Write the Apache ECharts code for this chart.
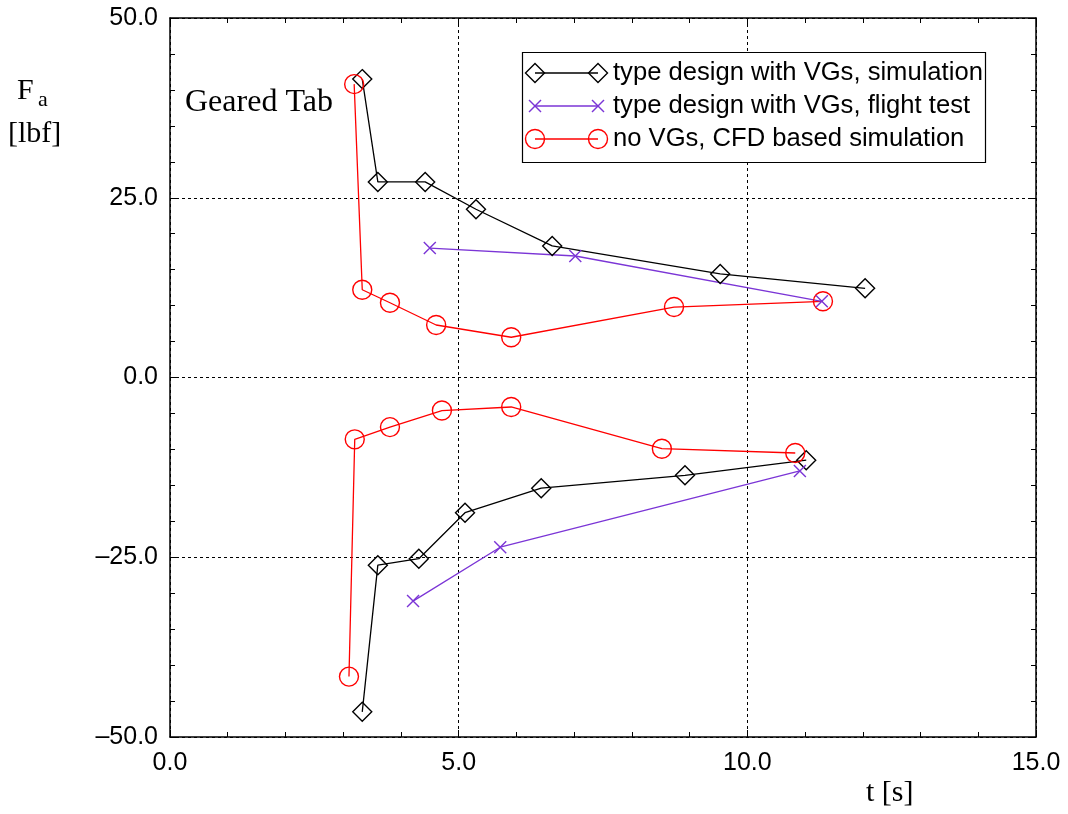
<!DOCTYPE html>
<html>
<head>
<meta charset="utf-8">
<script src="https://cdn.jsdelivr.net/npm/echarts@6/dist/echarts.min.js"></script>
<style>
  html, body { margin: 0; padding: 0; background: #fff; }
  #main { width: 1068px; height: 814px; }
</style>
</head>
<body>
<div id="main"></div>
<script type="text/javascript">
    // t [s] / Fa [lbf]
    var simUpperT = [3.33, 3.60, 4.42, 5.30, 6.62, 9.53, 12.04];
    var simUpperF = [41.5, 27.2, 27.2, 23.4, 18.3, 14.4, 12.4];
    var simLowerT = [3.33, 3.60, 4.31, 5.11, 6.43, 8.92, 11.02];
    var simLowerF = [-46.5, -26.1, -25.2, -18.8, -15.4, -13.6, -11.5];

    var testUpperT = [4.50, 7.02, 11.29];
    var testUpperF = [18.0, 16.9, 10.6];
    var testLowerT = [4.21, 5.72, 10.91];
    var testLowerF = [-31.1, -23.6, -13.0];

    var cfdUpperT = [3.19, 3.33, 3.81, 4.61, 5.91, 8.73, 11.31];
    var cfdUpperF = [40.8, 12.2, 10.4, 7.3, 5.6, 9.8, 10.6];
    var cfdLowerT = [3.10, 3.20, 3.81, 4.71, 5.91, 8.52, 10.83];
    var cfdLowerF = [-41.6, -8.6, -6.9, -4.6, -4.1, -9.9, -10.5];

    var legendNames = ['type design with VGs, simulation', 'type design with VGs, flight test', 'no VGs, CFD based simulation'];
    var xTicks = [0, 5, 10, 15];
    var yTicks = [-50, -25, 0, 25, 50];

    var black = '#000000';
    var purple = '#7b35d6';
    var red = '#ff0000';
    var crossPath = 'path://M0,0L10,10M10,0L0,10';

    function pairs(t, f) {
        var out = [];
        for (var i = 0; i < t.length; i++) out.push([t[i], f[i]]);
        return out;
    }
    function fmt(v) {
        return v.toFixed(1).replace('-', '\u2013');
    }

    var myChart = echarts.init(document.getElementById('main'), null, {renderer: 'canvas'});

    function lineSeries(name, data, color, symbol, size) {
        return {
            name: name,
            type: 'line',
            data: data,
            symbol: symbol,
            symbolSize: size,
            showAllSymbol: true,
            lineStyle: {color: color, width: 1.3},
            itemStyle: {color: 'rgba(0,0,0,0)', borderColor: color, borderWidth: 1.4},
            emphasis: {disabled: true},
            z: 3
        };
    }

    var axisBase = {
        type: 'value',
        axisLine: {show: true, onZero: false, lineStyle: {color: '#000', width: 1.5}},
        axisTick: {show: true, inside: true, length: 7, lineStyle: {color: '#000', width: 1}},
        minorTick: {show: true, splitNumber: 5, length: 5, lineStyle: {color: '#000', width: 1}},
        splitLine: {show: false}
    };

    function xAxis(pos, showLabel, showGrid) {
        return Object.assign({}, axisBase, {
            position: pos, min: xTicks[0], max: xTicks[xTicks.length - 1], interval: 5,
            axisLabel: {show: showLabel, formatter: fmt, margin: 14, color: '#000',
                fontFamily: 'Liberation Sans', fontSize: 25},
            splitLine: {show: showGrid, lineStyle: {color: '#000', width: 1, type: [3, 3]}}
        });
    }
    function yAxis(pos, showLabel, showGrid) {
        return Object.assign({}, axisBase, {
            position: pos, min: yTicks[0], max: yTicks[yTicks.length - 1], interval: 25,
            axisLabel: {show: showLabel, formatter: fmt, margin: 12, color: '#000',
                fontFamily: 'Liberation Sans', fontSize: 25},
            splitLine: {show: showGrid, lineStyle: {color: '#000', width: 1, type: [3, 3]}}
        });
    }

    // legend drawn by hand: line with a marker at each end
    var lgX0 = 535, lgX1 = 598, lgY = [73, 106, 139];
    var legendGraphics = [{
        type: 'rect', shape: {x: 522.5, y: 52.5, width: 463, height: 110},
        style: {fill: '#fff', stroke: '#000', lineWidth: 1.2}, z: 10
    }];
    var lgColors = [black, purple, red];
    lgY.forEach(function (y, i) {
        var c = lgColors[i];
        legendGraphics.push({type: 'line', shape: {x1: lgX0, y1: y, x2: lgX1, y2: y},
            style: {stroke: c, lineWidth: 1.3}, z: 11});
        [lgX0, lgX1].forEach(function (x) {
            if (i === 0) {
                legendGraphics.push({type: 'polygon',
                    shape: {points: [[x, y - 9.5], [x + 9.5, y], [x, y + 9.5], [x - 9.5, y]]},
                    style: {fill: 'none', stroke: c, lineWidth: 1.4}, z: 12});
            } else if (i === 1) {
                legendGraphics.push({type: 'polyline', shape: {points: [[x - 6, y - 6], [x + 6, y + 6]]},
                    style: {stroke: c, lineWidth: 1.4}, z: 12});
                legendGraphics.push({type: 'polyline', shape: {points: [[x + 6, y - 6], [x - 6, y + 6]]},
                    style: {stroke: c, lineWidth: 1.4}, z: 12});
            } else {
                legendGraphics.push({type: 'circle', shape: {cx: x, cy: y, r: 9.5},
                    style: {fill: 'none', stroke: c, lineWidth: 1.4}, z: 12});
            }
        });
        legendGraphics.push({type: 'text', x: 613, y: y,
            style: {text: legendNames[i], fill: '#000', fontFamily: 'Liberation Sans', fontSize: 25.6,
                verticalAlign: 'middle'}, z: 12});
    });

    var serif = 'Liberation Serif';
    var textGraphics = [
        {type: 'text', x: 17, y: 76, style: {text: 'F', fill: '#000', fontFamily: serif, fontSize: 30}},
        {type: 'text', x: 38, y: 89, style: {text: 'a', fill: '#000', fontFamily: serif, fontSize: 22}},
        {type: 'text', x: 8, y: 119, style: {text: '[lbf]', fill: '#000', fontFamily: serif, fontSize: 30}},
        {type: 'text', x: 185, y: 87, style: {text: 'Geared Tab', fill: '#000', fontFamily: serif, fontSize: 32}},
        {type: 'text', x: 866, y: 778, style: {text: 't [s]', fill: '#000', fontFamily: serif, fontSize: 30}}
    ];

    myChart.setOption({
        backgroundColor: '#fff',
        animation: false,
        grid: {left: 170, right: 32, top: 18, bottom: 77, show: false},
        xAxis: [xAxis('bottom', true, true), xAxis('top', false, false)],
        yAxis: [yAxis('left', true, true), yAxis('right', false, false)],
        series: [
            lineSeries(legendNames[0], pairs(simUpperT, simUpperF), black, 'diamond', [19, 19]),
            lineSeries(legendNames[0], pairs(simLowerT, simLowerF), black, 'diamond', [19, 19]),
            lineSeries(legendNames[2], pairs(cfdUpperT, cfdUpperF), red, 'circle', 19),
            lineSeries(legendNames[2], pairs(cfdLowerT, cfdLowerF), red, 'circle', 19),
            lineSeries(legendNames[1], pairs(testUpperT, testUpperF), purple, crossPath, 12),
            lineSeries(legendNames[1], pairs(testLowerT, testLowerF), purple, crossPath, 12)
        ],
        graphic: textGraphics.concat(legendGraphics)
    });
</script>
</body>
</html>
